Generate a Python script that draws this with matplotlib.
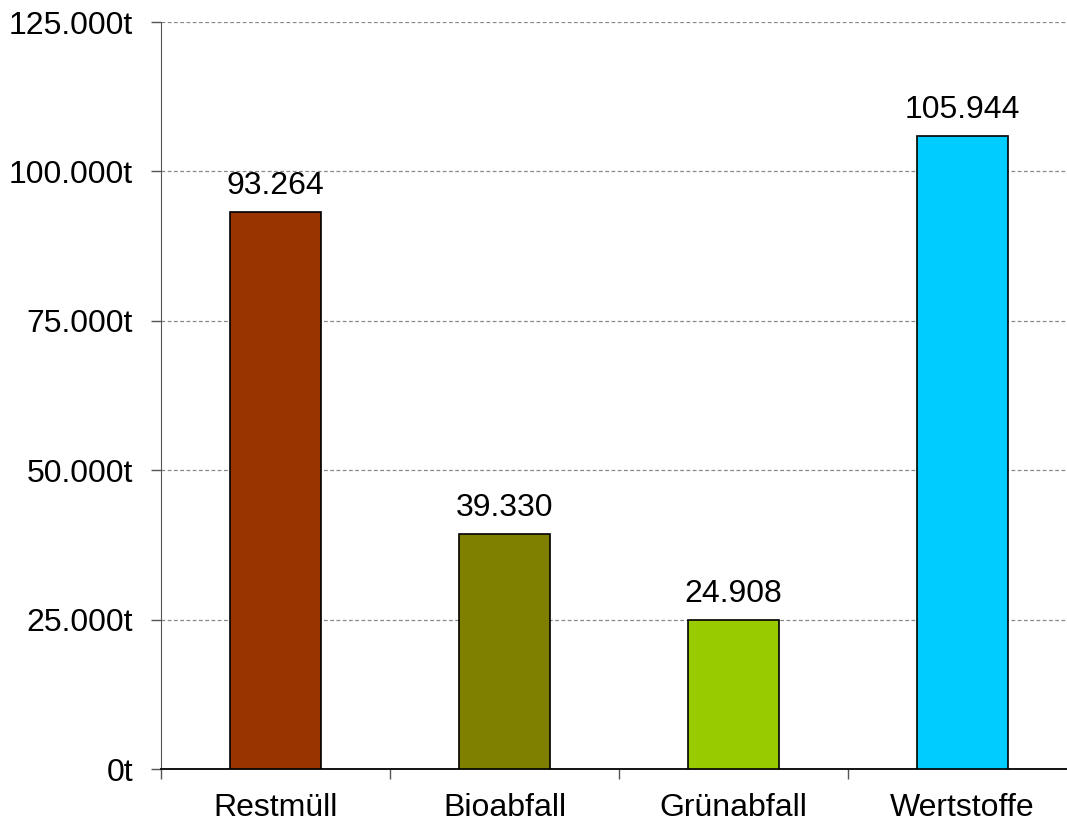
import matplotlib
matplotlib.use('Agg')
import matplotlib.pyplot as plt

categories = ['Restmüll', 'Bioabfall', 'Grünabfall', 'Wertstoffe']
values = [93264, 39330, 24908, 105944]
value_labels = ['93.264', '39.330', '24.908', '105.944']
bar_colors = ['#993300', '#808000', '#99CC00', '#00CCFF']
y_ticks = [0, 25000, 50000, 75000, 100000, 125000]
y_tick_labels = ['0t', '25.000t', '50.000t', '75.000t', '100.000t', '125.000t']

plt.rcParams['font.family'] = ['Liberation Sans', 'DejaVu Sans']
FS = 23

fig = plt.figure(figsize=(10.67, 8.22), dpi=100)
ax = fig.add_axes([161 / 1067, 53 / 822, 916 / 1067, 747 / 822])

positions = [i + 0.5 for i in range(len(categories))]
ax.bar(positions, values, width=0.4, color=bar_colors, edgecolor='black', linewidth=1.2, zorder=3)

for x, v, lab in zip(positions, values, value_labels):
    ax.annotate(lab, (x, v), xytext=(0, 13), textcoords='offset points',
                ha='center', va='baseline', fontsize=FS)

ax.set_xlim(0, 4)
ax.set_ylim(0, 125000)
ax.set_yticks(y_ticks)
ax.set_yticklabels(y_tick_labels, fontsize=FS)

# boundaries get tick marks, centres get the labels
ax.set_xticks(range(5))
ax.set_xticklabels([])
ax.set_xticks(positions, minor=True)
ax.set_xticklabels(categories, minor=True, fontsize=FS)
ax.tick_params(axis='x', which='minor', length=0, pad=17)
ax.tick_params(axis='x', which='major', length=7, width=1, color='#555555', direction='out')
ax.tick_params(axis='y', length=7, width=1, color='#555555', pad=13)

for y in y_ticks[1:]:
    ax.axhline(y, color='#888888', linewidth=0.9, linestyle=(0, (3, 2)), zorder=1)

ax.spines['top'].set_visible(False)
ax.spines['right'].set_visible(False)
ax.spines['left'].set_color('#555555')
ax.spines['bottom'].set_color('black')
ax.spines['bottom'].set_linewidth(1.3)

fig.savefig('out.png', dpi=100)
